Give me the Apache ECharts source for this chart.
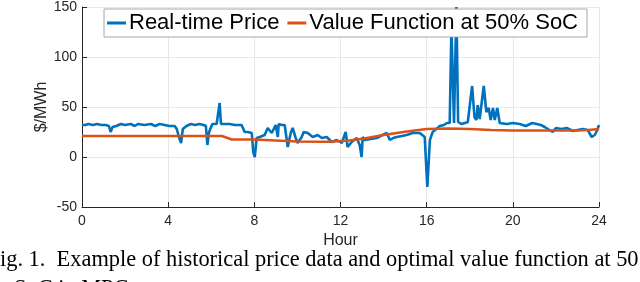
<!DOCTYPE html>
<html>
<head>
<meta charset="utf-8">
<script src="https://cdn.jsdelivr.net/npm/echarts@6/dist/echarts.min.js"></script>
<style>
html,body{margin:0;padding:0;background:#fff;}
#chart{width:640px;height:282px;}
</style>
</head>
<body>
<div id="chart"></div>
<script>
// Real-time price ($/MWh) vs hour
const priceHours = [
  0.00,0.05,0.15,0.30,0.50,0.70,0.90,1.10,1.25,1.33,1.42,1.60,1.80,2.00,2.26,2.45,2.60,2.90,3.20,3.40,3.60,3.84,4.05,4.30,4.40,4.50,4.60,4.68,4.85,5.05,5.25,5.45,5.65,5.75,5.82,5.90,6.05,6.25,6.34,6.39,6.45,6.60,6.85,7.10,7.30,7.41,7.55,7.70,7.88,7.95,8.02,8.11,8.25,8.48,8.62,8.81,8.99,9.09,9.13,9.27,9.41,9.55,9.69,9.78,9.92,10.01,10.20,10.29,10.48,10.71,10.94,11.13,11.36,11.59,11.82,12.06,12.24,12.33,12.52,12.75,12.89,12.98,13.03,13.12,13.40,13.68,13.95,14.15,14.29,14.45,14.61,14.85,15.07,15.35,15.68,15.91,16.03,16.15,16.28,16.45,16.61,16.80,16.94,17.07,17.15,17.27,17.38,17.46,17.61,17.77,17.91,18.11,18.22,18.31,18.37,18.46,18.55,18.65,18.77,18.88,18.97,19.08,19.16,19.28,19.39,19.72,20.00,20.32,20.60,20.90,21.11,21.30,21.48,21.70,21.85,22.00,22.25,22.50,22.79,23.00,23.25,23.48,23.66,23.80,23.90,24.00
];
const priceValues = [
  32,34,32,33,32,33,32,32,31,25,30,31,33,32,33,31,33,32,33,31,33,32,31,31,28,20,14,28,31,33,32,33,32,31,12,25,33,33,33,54,33,33,33,32,32,32,25,25,24,5,0,19,20,22,29,24,32,20,33,32,32,10,24,29,19,14,20,25,24,20,22,19,20,15,17,14,25,10,15,19,12,0,20,17,18,19,22,24,17,19,20,21,22,24,24,20,-30,17,25,28,31,32,34,34,130,34,150,35,33,34,35,71,40,37,52,38,40,71,45,49,37,49,37,49,34,33,34,33,31,34,33,32,30,27,25,29,28,29,26,27,28,27,20,22,26,32
];
// Value function at 50% SoC ($/MWh) vs hour
const valueHours = [0,2,4,6.5,6.95,8,9,10,11,11.5,12.4,13.1,14,15,16,17,18,19,20,21,22,23,23.5,24];
const valueValues = [21,21,21,21,17.5,17.5,16.5,15.5,15.3,15.3,16.5,18.5,22,25.3,28,28.5,28,27,26.5,26.5,26.5,26.5,27,28];

const seriesNames = ['Real-time Price','Value Function at 50% SoC'];
const xTicks = {min:0,max:24,interval:4};
const yTicks = {min:-50,max:150,interval:50};

const zip = (a,b)=>a.map((h,i)=>[h,b[i]]);
const axisColor = '#262626';
const gridColor = '#e8e8e8';
const sans = 'Liberation Sans, Arial, Helvetica, sans-serif';

const chart = echarts.init(document.getElementById('chart'), null, {renderer:'canvas'});
chart.setOption({
  animation:false,
  backgroundColor:'#ffffff',
  grid:{left:82,right:41,top:7,bottom:75,containLabel:false},
  xAxis:{
    type:'value',min:xTicks.min,max:xTicks.max,interval:xTicks.interval,
    name:'Hour',nameLocation:'middle',nameGap:26,nameMoveOverlap:false,
    nameTextStyle:{fontFamily:sans,fontSize:16,color:axisColor},
    axisLine:{show:true,onZero:false,lineStyle:{color:axisColor,width:1}},
    axisTick:{show:true,inside:true,length:5,lineStyle:{color:axisColor}},
    axisLabel:{fontFamily:sans,fontSize:14,color:axisColor,margin:7},
    splitLine:{show:true,lineStyle:{color:gridColor,width:1}}
  },
  yAxis:{
    type:'value',min:yTicks.min,max:yTicks.max,interval:yTicks.interval,
    name:'$/MWh',nameLocation:'middle',nameGap:32,nameRotate:90,nameMoveOverlap:false,
    nameTextStyle:{fontFamily:sans,fontSize:16,color:axisColor},
    axisLine:{show:true,onZero:false,lineStyle:{color:axisColor,width:1}},
    axisTick:{show:true,inside:true,length:5,lineStyle:{color:axisColor}},
    axisLabel:{fontFamily:sans,fontSize:14,color:axisColor,margin:5},
    splitLine:{show:true,lineStyle:{color:gridColor,width:1}}
  },
  legend:{
    left:104,top:9,orient:'horizontal',
    data:seriesNames,
    icon:'rect',
    itemWidth:19,itemHeight:3,itemGap:8,
    padding:[3,9,3,3],
    backgroundColor:'#ffffff',borderColor:'#a6a6a6',borderWidth:1,
    textStyle:{fontFamily:sans,fontSize:22,color:'#000000',padding:[0,0,0,-2]}
  },
  series:[
    {name:seriesNames[0],type:'line',data:zip(priceHours,priceValues),symbol:'none',
     lineStyle:{color:'#0072BD',width:2.6},itemStyle:{color:'#0072BD'},z:3},
    {name:seriesNames[1],type:'line',data:zip(valueHours,valueValues),symbol:'none',
     lineStyle:{color:'#D95319',width:2.6},itemStyle:{color:'#D95319'},z:4}
  ],
  graphic:[
    {type:'text',left:0,top:249,style:{text:'ig. 1.  Example of historical price data and optimal value function at 50',
      font:'22.4px "Liberation Serif", "Times New Roman", serif',fill:'#000'}},
    {type:'text',left:14,top:278,style:{text:'SoC in MPC.',
      font:'22.4px "Liberation Serif", "Times New Roman", serif',fill:'#000'}}
  ]
});
</script>
</body>
</html>
